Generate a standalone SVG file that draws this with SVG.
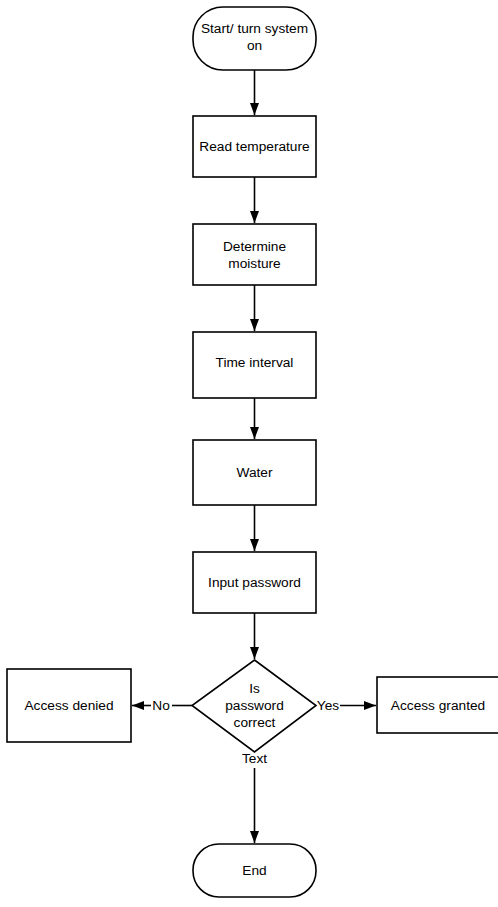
<svg xmlns="http://www.w3.org/2000/svg" width="498" height="907" viewBox="0 0 498 907">
<style>
.n{fill:#fff;stroke:#000;stroke-width:1.6}
.t{font-family:"Liberation Sans",Arial,sans-serif;font-size:13.7px;fill:#000;text-anchor:middle}
.c{stroke:#000;stroke-width:1.6;fill:none}
</style>
<defs>
<marker id="a" viewBox="0 0 12 10" refX="12" refY="5" markerWidth="12" markerHeight="10" markerUnits="userSpaceOnUse" orient="auto">
<path d="M0,0.5 L12,5 L0,9.5 Z" fill="#000"/>
</marker>
</defs>
<rect width="498" height="907" fill="#fff"/>
<g id="connectors">
<line class="c" x1="254.5" y1="70" x2="254.5" y2="115" marker-end="url(#a)"/>
<line class="c" x1="254.5" y1="177" x2="254.5" y2="223" marker-end="url(#a)"/>
<line class="c" x1="254.5" y1="285" x2="254.5" y2="331" marker-end="url(#a)"/>
<line class="c" x1="254.5" y1="398" x2="254.5" y2="439" marker-end="url(#a)"/>
<line class="c" x1="254.5" y1="505" x2="254.5" y2="551" marker-end="url(#a)"/>
<line class="c" x1="254.5" y1="613" x2="254.5" y2="659" marker-end="url(#a)"/>
<line class="c" x1="192" y1="705.5" x2="172" y2="705.5"/>
<line class="c" x1="151" y1="705.5" x2="132" y2="705.5" marker-end="url(#a)"/>
<line class="c" x1="340" y1="705.5" x2="376" y2="705.5" marker-end="url(#a)"/>
<line class="c" x1="254.5" y1="768" x2="254.5" y2="843" marker-end="url(#a)"/>
<text class="t" x="161" y="710">No</text>
<text class="t" x="328" y="710">Yes</text>
<text class="t" x="254.5" y="763">Text</text>
</g>
<g id="start">
<rect class="n" x="193" y="7" width="123" height="63" rx="30" ry="30"/>
<text class="t" x="254.5" y="33">Start/ turn system</text>
<text class="t" x="254.5" y="50">on</text>
</g>
<g id="read">
<rect class="n" x="193" y="116" width="123" height="61"/>
<text class="t" x="254.5" y="151">Read temperature</text>
</g>
<g id="moisture">
<rect class="n" x="193" y="224" width="123" height="61"/>
<text class="t" x="254.5" y="251">Determine</text>
<text class="t" x="254.5" y="268">moisture</text>
</g>
<g id="interval">
<rect class="n" x="193" y="332" width="123" height="66"/>
<text class="t" x="254.5" y="367">Time interval</text>
</g>
<g id="water">
<rect class="n" x="193" y="440" width="123" height="65"/>
<text class="t" x="254.5" y="477">Water</text>
</g>
<g id="password">
<rect class="n" x="193" y="552" width="123" height="61"/>
<text class="t" x="254.5" y="587">Input password</text>
</g>
<g id="decision">
<polygon class="n" points="254.5,660 316,705.5 254.5,752 192,705.5"/>
<text class="t" x="254.5" y="693">Is</text>
<text class="t" x="254.5" y="710">password</text>
<text class="t" x="254.5" y="727">correct</text>
</g>
<g id="denied">
<rect class="n" x="7" y="669" width="124" height="73"/>
<text class="t" x="69" y="710">Access denied</text>
</g>
<g id="granted">
<rect class="n" x="377" y="677" width="122" height="56"/>
<text class="t" x="438" y="710">Access granted</text>
</g>
<g id="end">
<rect class="n" x="193" y="844" width="123" height="53" rx="26" ry="26"/>
<text class="t" x="254.5" y="875">End</text>
</g>
</svg>
